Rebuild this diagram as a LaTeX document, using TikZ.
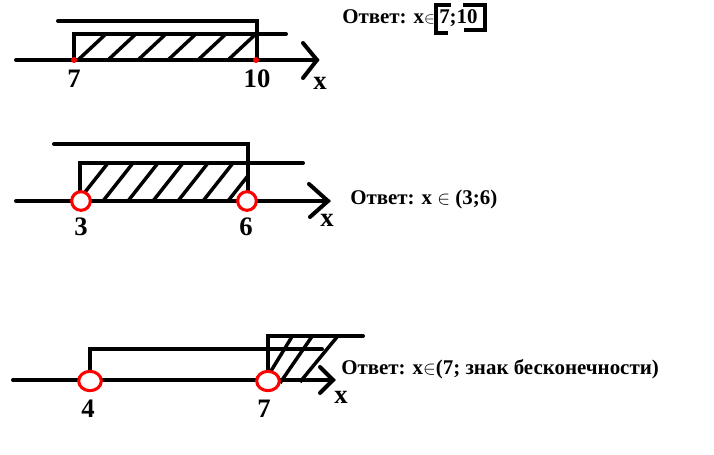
\documentclass[tikz,border=0pt]{standalone}
\usepackage{fontspec}
\setmainfont{Liberation Serif}
\tikzset{
  axisline/.style={line width=3pt, line cap=round},
  bracketline/.style={line width=3pt, line cap=round, line join=miter},
  hatchline/.style={line width=2.6pt},
  openpt/.style={circle, draw=red, line width=2.3pt, fill=white, minimum size=14pt, inner sep=0pt},
  openov/.style={ellipse, draw=red, line width=2.3pt, fill=white, minimum width=17pt, minimum height=14.5pt, inner sep=0pt},
  fullpt/.style={circle, fill=red, minimum size=4.5pt, inner sep=0pt},
  ticklabel/.style={font=\fontsize{20}{20}\selectfont\bfseries},
  answer/.style={anchor=west, font=\fontsize{15.7}{16}\selectfont\bfseries, inner sep=0pt}
}
\usetikzlibrary{shapes.geometric}
\begin{document}
\begin{tikzpicture}[x=0.75pt, y=-0.75pt]
  \useasboundingbox (0,0) rectangle (714,454);
  % first line: [7;10]
  \begin{scope}
    \clip (74,34) rectangle (256,60);
    \foreach \s in {78,108,...,228}
      \draw[hatchline] (\s,60) -- ++(30,-28);
  \end{scope}
  \draw[axisline] (16,60) -- (317,60);
  \draw[axisline] (303,43) -- (317,60) -- (303,78);
  \draw[bracketline] (58,21) -- (257,21) -- (257,60);
  \draw[bracketline] (286,34) -- (74,34) -- (74,60);
  \node[fullpt] (a7) at (74,60) {};
  \node[fullpt] (a10) at (256,60) {};
  \node[ticklabel] (l7) at (74,79) {7};
  \node[ticklabel] (l10) at (257,79) {10};
  \node[ticklabel] (xa) at (320,83) {x};
  \node[answer] (ansa) at (342,17) {Ответ: x\fontsize{12}{12}\selectfont$\in$};
  \node[answer] (ansab) at (439,18) {7;10};
  \draw[line width=2.4pt] (451,5) -- (436,5) -- (436,33) -- (448,33);
  \draw[line width=2.4pt] (463,5) -- (485,5) -- (485,30) -- (464,30);
  % second line: (3;6)
  \begin{scope}
    \clip (81,163) rectangle (248,201);
    \foreach \s in {78,103,...,228}
      \draw[hatchline] (\s,201) -- ++(30,-38);
  \end{scope}
  \draw[axisline] (16,201) -- (328,201);
  \draw[axisline] (309,184) -- (328,201) -- (310,217);
  \draw[bracketline] (54,144) -- (248,144) -- (248,192);
  \draw[bracketline] (303,163) -- (80,163) -- (80,192);
  \node[openpt] (b3) at (81,201) {};
  \node[openpt] (b6) at (247,201) {};
  \node[ticklabel] (l3) at (81,227) {3};
  \node[ticklabel] (l6) at (246,227) {6};
  \node[ticklabel] (xb) at (327,220) {x};
  \node[answer] (ansb) at (350,199) {Ответ: x $\in$ (3;6)};
  % third line: (7; +inf)
  \draw[hatchline] (271,371) -- (293,335);
  \draw[hatchline] (280,383) -- (313,335);
  \draw[hatchline] (300,382) -- (337,337);
  \draw[axisline] (13,380) -- (333,380);
  \draw[axisline] (320,367) -- (333,380) -- (320,393);
  \draw[bracketline] (90,371) -- (90,349) -- (322,349);
  \draw[bracketline] (268,371) -- (268,336) -- (363,336);
  \node[openov] (c4) at (90,381) {};
  \node[openov] (c7) at (268,381) {};
  \node[ticklabel] (l4) at (88,409) {4};
  \node[ticklabel] (l7b) at (264,409) {7};
  \node[ticklabel] (xc) at (341,397) {x};
  \node[answer] (ansc) at (341,369) {Ответ: x$\in$(7; знак бесконечности)};
\end{tikzpicture}
\end{document}
